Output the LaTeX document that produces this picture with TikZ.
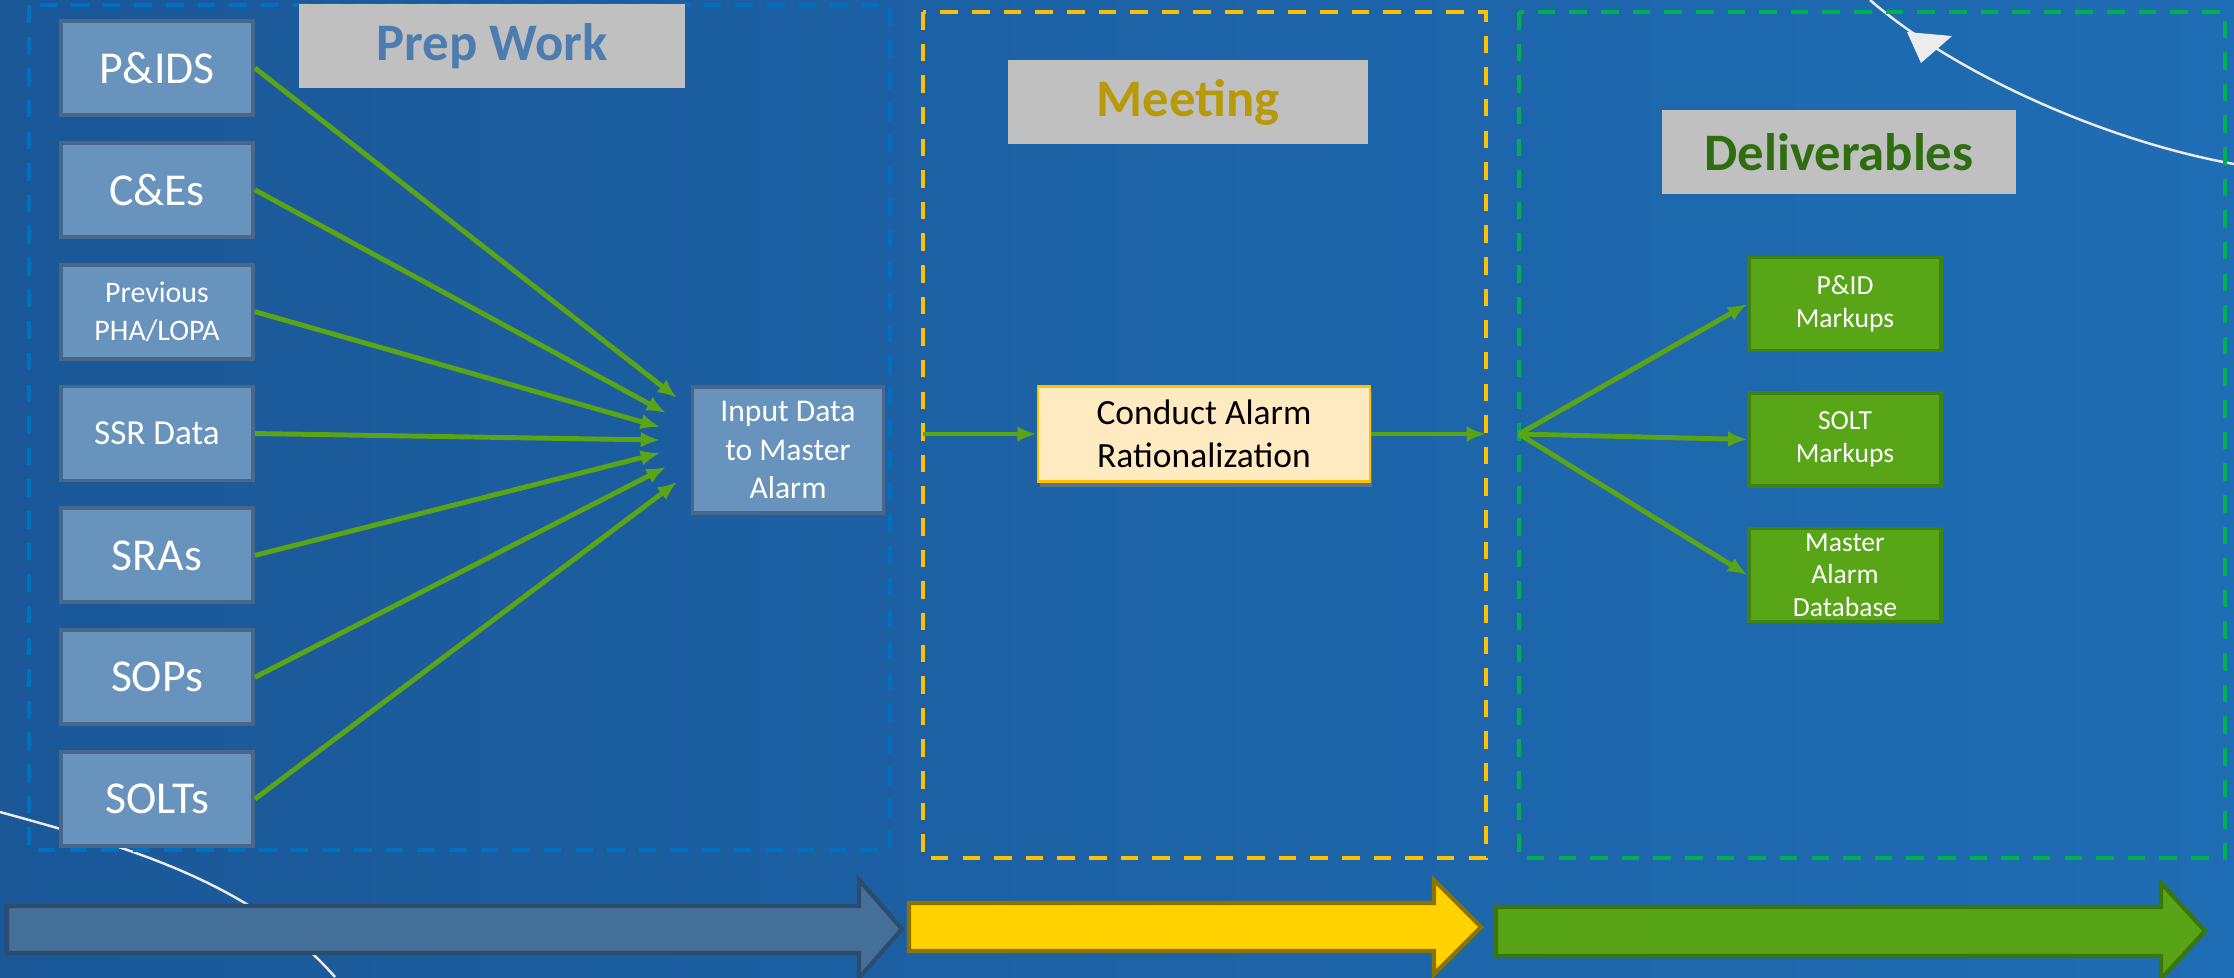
\documentclass[tikz,border=0pt]{standalone}
\usepackage{fontspec}
\setmainfont{Carlito}
\usetikzlibrary{positioning,arrows.meta,shadows}

\definecolor{bgdark}{HTML}{1A5898}
\definecolor{bglight}{HTML}{1F6DB4}
\definecolor{boxblue}{HTML}{6893BD}
\definecolor{boxedge}{HTML}{4A6688}
\definecolor{linkgreen}{HTML}{5AA516}
\definecolor{delfill}{HTML}{58A518}
\definecolor{deledge}{HTML}{3E8410}
\definecolor{prepframe}{HTML}{0070C0}
\definecolor{meetframe}{HTML}{FFC000}
\definecolor{delframe}{HTML}{00B050}
\definecolor{labelgray}{HTML}{C0C0C0}
\definecolor{condfill}{HTML}{FFEAC2}
\definecolor{preptext}{HTML}{4D7DB0}
\definecolor{meettext}{HTML}{B89A08}
\definecolor{deltext}{HTML}{2E6E10}
\definecolor{phaseblue}{HTML}{436F98}
\definecolor{phaseblueedge}{HTML}{2D4C6C}
\definecolor{phaseyellow}{HTML}{FFD200}
\definecolor{phaseyellowedge}{HTML}{8C7400}
\definecolor{phasegreen}{HTML}{58A417}
\definecolor{phasegreenedge}{HTML}{3A760C}

\tikzset{
  srcbox/.style={
    rectangle, draw=boxedge, fill=boxblue, line width=2.2pt,
    minimum width=3.84cm, minimum height=1.88cm,
    text=white, align=center, inner sep=0pt,
    font=\fontsize{26}{31}\selectfont
  },
  delbox/.style={
    rectangle, draw=deledge, fill=delfill, line width=2pt,
    minimum width=3.84cm, minimum height=1.86cm,
    text=white, align=center, inner sep=0pt,
    font=\fontsize{15.7}{19}\selectfont
  },
  condbox/.style={
    rectangle, draw=meetframe, fill=condfill, line width=1.6pt,
    minimum width=6.64cm, minimum height=1.9cm,
    align=center, inner sep=0pt,
    font=\fontsize{20.2}{24.7}\selectfont,
    drop shadow={shadow xshift=1pt,shadow yshift=-3pt,opacity=0.6}
  },
  title/.style={
    rectangle, fill=labelgray, minimum height=1.7cm, inner sep=0pt,
    font=\bfseries\fontsize{30}{36}\selectfont
  },
  frame/.style={line width=2.2pt, dash pattern=on 10pt off 8pt},
  link/.style={draw=linkgreen, line width=2.8pt},
  swoosh/.style={draw=white!85!gray, line width=1.4pt},
  phase/.style={line width=2.4pt, line join=miter}
}

\begin{document}
\begin{tikzpicture}[x=0.02cm,y=-0.02cm,>={Latex[length=11pt,width=9pt]}]

% page and background
\useasboundingbox (0,0) rectangle (2234,977);
\fill[left color=bgdark,right color=bglight] (0,0) rectangle (2234,977);
\draw[swoosh] (0,812) .. controls (120,845) and (250,880) .. (335,977);
\draw[swoosh] (1870,0) .. controls (1950,70) and (2100,140) .. (2234,164);
\fill[white!85!gray] (1907,32) -- (1952,36) -- (1921,63) -- cycle;

% phase frames
\draw[frame,prepframe] (29,5) rectangle (890,850);
\draw[frame,meetframe] (923,12) rectangle (1486,858);
\draw[frame,delframe] (1519,12) rectangle (2225,858);

\node[title,text=preptext,minimum width=7.74cm] (prep) at (492,46) {Prep Work};

\node[title,text=meettext,minimum width=7.22cm] (meet) at (1188,102) {Meeting};

\node[title,text=deltext,minimum width=7.08cm] (deliv) at (1839,152) {Deliverables};

% sources
\node[srcbox] (pids) at (157,68) {P\&IDS};
\node[srcbox,below=0.48cm of pids] (ces) {C\&Es};
\node[srcbox,below=0.48cm of ces,font=\fontsize{17}{22}\selectfont] (pha) {Previous\\PHA/LOPA};
\node[srcbox,below=0.48cm of pha,font=\fontsize{20}{24}\selectfont] (ssr) {SSR Data};
\node[srcbox,below=0.48cm of ssr] (sras) {SRAs};
\node[srcbox,below=0.48cm of sras] (sops) {SOPs};
\node[srcbox,below=0.48cm of sops] (solts) {SOLTs};

\node[srcbox,minimum width=3.82cm,minimum height=2.52cm,
  font=\fontsize{18}{22}\selectfont] (input) at (788,450)
  {Input Data\\to Master\\Alarm};

\node[condbox] (conduct) at (1204,434) {Conduct Alarm\\Rationalization};

% deliverables
\node[delbox] (pidmark) at (1845,304) {P\&ID\\Markups};
\node[delbox,below=0.78cm of pidmark] (soltmark) {SOLT\\Markups};
\node[delbox,below=0.78cm of soltmark,font=\fontsize{15.7}{18.6}\selectfont] (masterdb)
  {Master\\Alarm\\Database};

\coordinate (in1) at (677,398);
\coordinate (in2) at (666,413);
\coordinate (in3) at (660,427);
\coordinate (in4) at (660,440);
\coordinate (in5) at (660,453);
\coordinate (in6) at (666,467);
\coordinate (in7) at (677,482);
\coordinate (mtgin) at (923,434);
\coordinate (mtgout) at (1486,434);
\coordinate (fanroot) at (1519,434);

\draw[link,->] (pids.east) -- (in1);
\draw[link,->] (ces.east) -- (in2);
\draw[link,->] (pha.east) -- (in3);
\draw[link,->] (ssr.east) -- (in4);
\draw[link,->] (sras.east) -- (in5);
\draw[link,->] (sops.east) -- (in6);
\draw[link,->] (solts.east) -- (in7);

\draw[link,->] (mtgin) -- (conduct.west);
\draw[link,->] (conduct.east) -- (mtgout);

\draw[link,->] (fanroot) -- (pidmark.west);
\draw[link,->] (fanroot) -- (soltmark.west);
\draw[link,->] (fanroot) -- (masterdb.west);

% phase arrows
\draw[phase,fill=phaseblue,draw=phaseblueedge]
  (7,906) -- (859,906) -- (859,880) -- (902,929) -- (859,978) -- (859,953) -- (7,953) -- cycle;
\draw[phase,fill=phaseyellow,draw=phaseyellowedge]
  (909,903) -- (1434,903) -- (1434,880) -- (1481,927) -- (1434,974) -- (1434,951) -- (909,951) -- cycle;
\draw[phase,fill=phasegreen,draw=phasegreenedge]
  (1496,907) -- (2161,907) -- (2161,883) -- (2205,931) -- (2161,979) -- (2161,956) -- (1496,956) -- cycle;

\end{tikzpicture}
\end{document}
